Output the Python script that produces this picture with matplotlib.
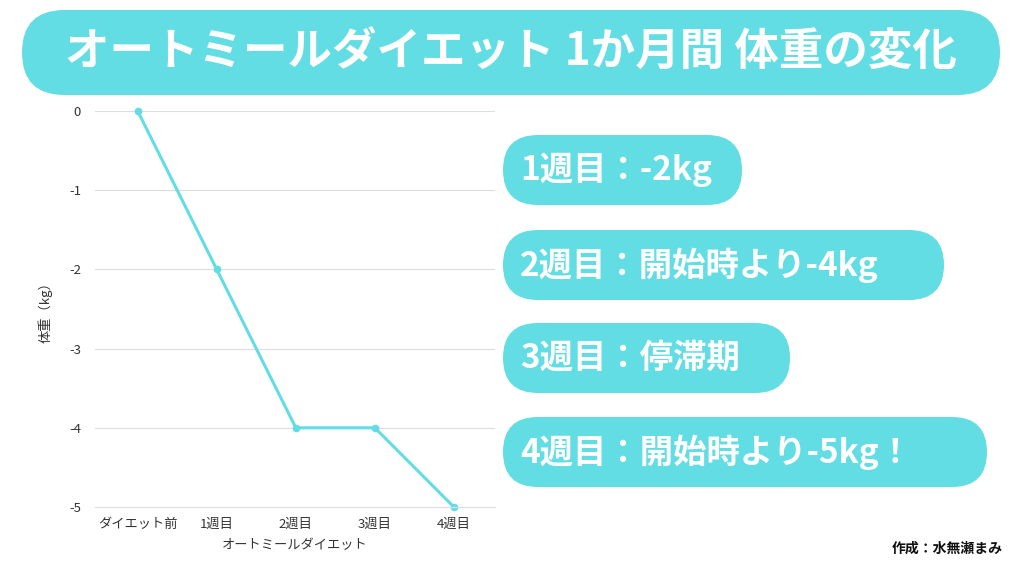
import matplotlib
matplotlib.use("Agg")
import matplotlib.pyplot as plt
from matplotlib.patches import FancyBboxPatch

plt.rcParams["font.family"] = "Noto Sans CJK JP"

categories = ["ダイエット前", "1週目", "2週目", "3週目", "4週目"]
weights = [0, -2, -4, -4, -5]
yticks = [0, -1, -2, -3, -4, -5]
title = "オートミールダイエット 1か月間 体重の変化"
notes = ["1週目：-2kg", "2週目：開始時より-4kg", "3週目：停滞期", "4週目：開始時より-5kg！"]
note_widths = [239, 441, 287, 484]
note_tops = [135, 230, 323, 417]
teal = "#62DDE3"

W, H = 1024, 576
fig = plt.figure(figsize=(W/100, H/100), dpi=100)

bg = fig.add_axes([0, 0, 1, 1])
bg.set_xlim(0, W)
bg.set_ylim(H, 0)
bg.axis("off")

def box(x0, y0, x1, y1):
    h = y1 - y0
    p = FancyBboxPatch((x0, y0), x1 - x0, h,
                       boxstyle=f"round,pad=0,rounding_size={h/2}",
                       fc=teal, ec="none")
    bg.add_patch(p)

box(22, 10, 1000, 95)
bg.text(511, 53, title, ha="center", va="center", color="white",
        fontsize=32, fontweight="bold")

for t, w, top in zip(notes, note_widths, note_tops):
    box(503, top, 503 + w, top + 70)
    bg.text(520, top + 35, t, ha="left", va="center", color="white",
            fontsize=24, fontweight="bold")

bg.text(1003, 549, "作成：水無瀬まみ", ha="right", va="center",
        fontsize=10, fontweight="bold", color="#111111")

ax = fig.add_axes([95/W, 1 - 507/H, 400/W, 396/H])
x = list(range(len(categories)))
ax.plot(x, weights, color=teal, lw=2.2, marker="o", ms=4.5, clip_on=False)
ax.set_xlim(-0.54, 4.52)
ax.set_ylim(-5, 0)
ax.set_yticks(yticks)
ax.set_yticklabels([str(v) for v in yticks])
ax.set_xticks(x)
ax.set_xticklabels(categories)
ax.grid(axis="y", color="#dddddd", lw=0.8)
ax.set_axisbelow(True)
for s in ["top", "right", "left"]:
    ax.spines[s].set_visible(False)
ax.spines["bottom"].set_color("#dddddd")
ax.tick_params(length=0, labelsize=9.5, colors="#333333")
ax.tick_params(axis="y", pad=10)
ax.tick_params(axis="x", pad=8)
ax.set_xlabel("オートミールダイエット", fontsize=9.5, color="#333333", labelpad=6)
ax.set_ylabel("体重（kg）", fontsize=9.5, color="#333333", labelpad=12)

fig.savefig("out.png", dpi=100)
